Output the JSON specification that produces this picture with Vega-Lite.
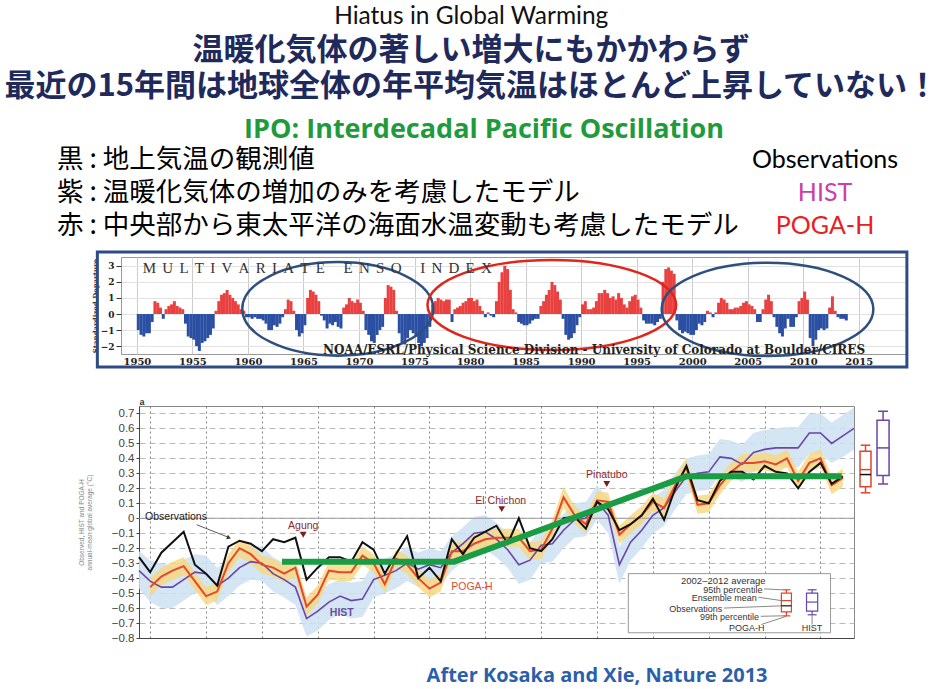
{
  "$schema": "https://vega.github.io/schema/vega-lite/v6.json",
  "background": "white",
  "padding": {"top": 3, "left": 0, "right": 0, "bottom": 0},
  "spacing": 8,
  "title": {
    "text": "Hiatus in Global Warming",
    "subtitle": ["温暖化気体の著しい増大にもかかわらず", "最近の15年間は地球全体の年平均気温はほとんど上昇していない！"],
    "anchor": "middle", "frame": "bounds",
    "font": "Lato", "fontSize": 24.5, "fontWeight": "normal", "color": "#111",
    "subtitleFont": "Noto Sans CJK JP", "subtitleFontSize": 31, "subtitleFontWeight": "bold",
    "subtitleColor": "#1f2a5c", "subtitleLineHeight": 36, "subtitlePadding": 7, "offset": 13
  },
  "vconcat": [
    {
      "spacing": 0,
      "hconcat": [
        {"width": 57, "height": 10, "data": {"values": [{}]}, "mark": {"type": "point", "opacity": 0}},
        {
          "width": 768, "height": 99,
          "title": {"text": "IPO: Interdecadal Pacific Oscillation", "font": "Open Sans", "fontSize": 27, "fontWeight": "bold", "color": "#1f9a3c", "anchor": "middle", "dx": 43, "offset": -1},
          "data": {"name": "rows"},
          "layer": [
            {
              "mark": {"type": "text", "align": "left", "font": "Noto Sans CJK JP", "fontSize": 26.5, "color": "#000"},
              "encoding": {
                "x": {"datum": "jp", "type": "nominal", "scale": {"type": "point", "domain": ["jp", "en"], "padding": 0}, "axis": null},
                "y": {"field": "key", "type": "nominal", "sort": ["obs", "hist", "poga"], "scale": {"type": "point", "padding": 0.5}, "axis": null},
                "text": {"field": "jp"}
              }
            },
            {
              "mark": {"type": "text", "align": "center", "font": "Lato", "fontSize": 25},
              "encoding": {
                "x": {"datum": "en", "type": "nominal", "axis": null},
                "y": {"field": "key", "type": "nominal", "sort": ["obs", "hist", "poga"], "axis": null},
                "text": {"field": "en"},
                "color": {"field": "key", "type": "nominal", "scale": {"domain": ["obs", "hist", "poga"], "range": ["#000000", "#cc3fa8", "#e8201e"]}, "legend": null}
              }
            }
          ]
        }
      ]
    },
    {
      "spacing": 0,
      "hconcat": [
        {"width": 89.5, "height": 132, "data": {"values": [{}]}, "mark": {"type": "point", "opacity": 0}},
        {
          "width": 786, "height": 97,
          "view": {"stroke": "#999", "strokeWidth": 1},
          "resolve": {"axis": {"y": "independent"}},
          "layer": [
            {
              "data": {"values": [{}]},
              "mark": {"type": "rect", "filled": false, "stroke": "#2d4b87", "strokeWidth": 3},
              "encoding": {
                "x": {"datum": 1946.44, "type": "quantitative", "scale": {"domain": [1949.02, 2018.89], "nice": false, "zero": false},
                  "axis": {"values": [1950, 1955, 1960, 1965, 1970, 1975, 1980, 1985, 1990, 1995, 2000, 2005, 2010, 2015], "format": "d", "title": null, "grid": true, "gridColor": "#cccccc", "ticks": false, "domain": false, "labelOverlap": false, "labelFont": "DejaVu Serif", "labelFontWeight": "bold", "labelFontSize": 10, "labelColor": "#222", "labelPadding": 2}},
                "x2": {"datum": 2019.33},
                "y": {"datum": 3.86, "type": "quantitative", "scale": {"domain": [-2.49, 3.55], "nice": false, "zero": false},
                  "axis": {"orient": "left", "values": [-2, -1, 0, 1, 2, 3], "labelOverlap": false, "title": "Standardized Departure", "titleFont": "DejaVu Serif", "titleFontSize": 7, "titleFontWeight": "bold", "titleColor": "#333", "titlePadding": 2, "grid": true, "gridColor": "#e2e2e2", "tickSize": 5, "tickColor": "#333", "domain": false, "labelFont": "DejaVu Serif", "labelFontWeight": "bold", "labelFontSize": 9, "labelColor": "#222", "labelPadding": 2}},
                "y2": {"datum": -3.3}
              }
            },
            {
              "data": {"name": "mei"},
              "mark": {"type": "bar", "size": 3, "orient": "vertical"},
              "encoding": {
                "x": {"field": "t", "type": "quantitative", "title": null},
                "y": {"field": "v", "type": "quantitative", "axis": null},
                "y2": {"datum": 0},
                "color": {"condition": {"test": "datum.v > 0", "value": "#e8413f"}, "value": "#2b4fa3"}
              }
            },
            {
              "data": {"values": [{}]},
              "mark": {"type": "point", "shape": "M-1,0A1,0.49,0,1,1,1,0A1,0.49,0,1,1,-1,0Z", "size": 36481, "filled": false, "color": "#2f4f7f", "strokeWidth": 2.5, "opacity": 1},
              "encoding": {"x": {"datum": 1968.09}, "y": {"datum": 0.32, "axis": null}}
            },
            {
              "data": {"values": [{}]},
              "mark": {"type": "point", "shape": "M-1,0A1,0.362,0,1,1,1,0A1,0.362,0,1,1,-1,0Z", "size": 61852, "filled": false, "color": "#e0251b", "strokeWidth": 2.5, "opacity": 1},
              "encoding": {"x": {"datum": 1987.36}, "y": {"datum": 0.56, "axis": null}}
            },
            {
              "data": {"values": [{}]},
              "mark": {"type": "point", "shape": "M-1,0A1,0.44,0,1,1,1,0A1,0.44,0,1,1,-1,0Z", "size": 44817, "filled": false, "color": "#2f4f7f", "strokeWidth": 2.5, "opacity": 1},
              "encoding": {"x": {"datum": 2006.78}, "y": {"datum": 0.29, "axis": null}}
            },
            {
              "data": {"values": [{}]},
              "mark": {"type": "text", "text": "M\u2005\u2006U\u2005\u2006L\u2005\u2006T\u2005\u2006I\u2005\u2006V\u2005\u2006A\u2005\u2006R\u2005\u2006I\u2005\u2006A\u2005\u2006T\u2005\u2006E\u2005\u2006\u2005\u2006\u2005\u2006E\u2005\u2006N\u2005\u2006S\u2005\u2006O\u2005\u2006\u2005\u2006\u2005\u2006I\u2005\u2006N\u2005\u2006D\u2005\u2006E\u2005\u2006X", "align": "left", "baseline": "middle", "font": "Liberation Serif", "fontSize": 15, "color": "#333"},
              "encoding": {"x": {"datum": 1950.53}, "y": {"datum": 2.86, "axis": null}}
            },
            {
              "data": {"values": [{}]},
              "mark": {"type": "text", "text": "NOAA/ESRL/Physical Science Division - University of Colorado at Boulder/CIRES", "align": "center", "baseline": "middle", "font": "DejaVu Serif", "fontWeight": "bold", "fontSize": 12, "color": "#222"},
              "encoding": {"x": {"datum": 1991.16}, "y": {"datum": -2.24, "axis": null}}
            }
          ]
        },
        {"width": 33.5, "height": 10, "data": {"values": [{}]}, "mark": {"type": "point", "opacity": 0}}
      ]
    },
    {
      "spacing": 0,
      "hconcat": [
        {"width": 77, "height": 10, "data": {"values": [{}]}, "mark": {"type": "point", "opacity": 0}},
        {
          "width": 715, "height": 232,
          "view": {"stroke": "#888", "strokeWidth": 1},
          "data": {"name": "gmt"},
          "resolve": {"axis": {"y": "independent"}},
          "layer": [
            {
              "mark": {"type": "area", "color": "#cde1f2", "opacity": 0.85},
              "encoding": {
                "x": {"field": "year", "type": "quantitative", "scale": {"domain": [1949, 2013], "nice": false, "zero": false},
                  "axis": {"values": [1950, 1955, 1960, 1965, 1970, 1975, 1980, 1985, 1990, 1995, 2000, 2005, 2010], "labels": false, "ticks": false, "title": null, "grid": true, "gridDash": [2, 3], "gridColor": "#666", "gridWidth": 0.8, "domainColor": "#444"}},
                "y": {"field": "hlo", "type": "quantitative", "scale": {"domain": [-0.8, 0.75], "nice": false, "zero": false},
                  "axis": {"orient": "left", "values": [-0.8, -0.7, -0.6, -0.5, -0.4, -0.3, -0.2, -0.1, 0, 0.1, 0.2, 0.3, 0.4, 0.5, 0.6, 0.7], "labelOverlap": false, "labelExpr": "datum.value == 0 ? '0' : (datum.value < 0 ? '\u2212' : '') + format(abs(datum.value), '.1f')", "grid": true, "gridDash": [6, 4], "gridColor": "#aaaaaa", "gridWidth": 0.8, "labelFont": "Liberation Sans", "labelFontSize": 11.5, "labelColor": "#444", "tickSize": 3, "tickColor": "#444", "labelPadding": 2, "domainColor": "#444",
                    "title": ["Observed, HIST and POGA-H", "annual-mean global average (°C)"], "titleFont": "Liberation Sans", "titleFontSize": 6.5, "titleFontWeight": "normal", "titleColor": "#888", "titleLineHeight": 8, "titlePadding": 2, "minExtent": 45, "maxExtent": 45}},
                "y2": {"field": "hhi"}
              }
            },
            {
              "mark": {"type": "area", "color": "#f8d77c", "opacity": 0.8},
              "encoding": {"x": {"field": "year", "type": "quantitative", "title": null}, "y": {"field": "plo", "type": "quantitative", "axis": null}, "y2": {"field": "phi"}}
            },
            {
              "data": {"values": [{}]},
              "mark": {"type": "rule", "color": "#9a9a9a", "strokeWidth": 1},
              "encoding": {"y": {"datum": 0, "axis": null}}
            },
            {
              "mark": {"type": "line", "color": "#6b45a8", "strokeWidth": 1.6},
              "encoding": {"x": {"field": "year", "type": "quantitative", "title": null}, "y": {"field": "hist", "type": "quantitative", "axis": null}}
            },
            {
              "mark": {"type": "line", "color": "#e8452c", "strokeWidth": 2},
              "encoding": {"x": {"field": "year", "type": "quantitative", "title": null}, "y": {"field": "poga", "type": "quantitative", "axis": null}}
            },
            {
              "mark": {"type": "line", "color": "#111111", "strokeWidth": 2},
              "encoding": {"x": {"field": "year", "type": "quantitative", "title": null}, "y": {"field": "obs", "type": "quantitative", "axis": null}}
            },
            {
              "data": {"name": "ipo"},
              "mark": {"type": "line", "color": "#1a9c45", "strokeWidth": 6},
              "encoding": {"x": {"field": "year", "type": "quantitative", "title": null}, "y": {"field": "v", "type": "quantitative", "axis": null}}
            },
            {"data": {"values": [{}]}, "mark": {"type": "text", "text": "Observations", "align": "left", "font": "Liberation Sans", "fontSize": 10.5, "color": "#222"}, "encoding": {"x": {"datum": 1949.54}, "y": {"datum": 0.008, "axis": null}}},
            {"data": {"values": [{}]}, "mark": {"type": "rule", "color": "#333", "strokeWidth": 0.8}, "encoding": {"x": {"datum": 1954.16}, "y": {"datum": -0.043, "axis": null}, "x2": {"datum": 1957.0}, "y2": {"datum": -0.127}}},
            {"data": {"values": [{}]}, "mark": {"type": "point", "shape": "triangle-right", "angle": 22, "size": 22, "filled": true, "color": "#333", "opacity": 1}, "encoding": {"x": {"datum": 1957.05}, "y": {"datum": -0.13, "axis": null}}},
            {"data": {"values": [{}]}, "mark": {"type": "text", "text": "Agung", "font": "Liberation Sans", "fontSize": 10.5, "color": "#8b2a2a"}, "encoding": {"x": {"datum": 1963.7}, "y": {"datum": -0.055, "axis": null}}},
            {"data": {"values": [{}]}, "mark": {"type": "point", "shape": "triangle-down", "size": 45, "filled": true, "color": "#7a1f1f", "opacity": 1}, "encoding": {"x": {"datum": 1963.7}, "y": {"datum": -0.11, "axis": null}}},
            {"data": {"values": [{}]}, "mark": {"type": "text", "text": "El Chichon", "font": "Liberation Sans", "fontSize": 10.5, "color": "#8b2a2a"}, "encoding": {"x": {"datum": 1981.38}, "y": {"datum": 0.117, "axis": null}}},
            {"data": {"values": [{}]}, "mark": {"type": "point", "shape": "triangle-down", "size": 45, "filled": true, "color": "#7a1f1f", "opacity": 1}, "encoding": {"x": {"datum": 1981.47}, "y": {"datum": 0.061, "axis": null}}},
            {"data": {"values": [{}]}, "mark": {"type": "text", "text": "Pinatubo", "font": "Liberation Sans", "fontSize": 10.5, "color": "#8b2a2a"}, "encoding": {"x": {"datum": 1990.87}, "y": {"datum": 0.291, "axis": null}}},
            {"data": {"values": [{}]}, "mark": {"type": "point", "shape": "triangle-down", "size": 45, "filled": true, "color": "#7a1f1f", "opacity": 1}, "encoding": {"x": {"datum": 1990.87}, "y": {"datum": 0.229, "axis": null}}},
            {"data": {"values": [{}]}, "mark": {"type": "text", "text": "HIST", "font": "Liberation Sans", "fontSize": 10.5, "fontWeight": "bold", "color": "#6a4ca0"}, "encoding": {"x": {"datum": 1967.15}, "y": {"datum": -0.63, "axis": null}}},
            {"data": {"values": [{}]}, "mark": {"type": "text", "text": "POGA-H", "font": "Liberation Sans", "fontSize": 10.5, "color": "#e5492f"}, "encoding": {"x": {"datum": 1978.8}, "y": {"datum": -0.46, "axis": null}}},
            {"data": {"values": [{}]}, "mark": {"type": "text", "text": "a", "font": "Liberation Sans", "fontSize": 9, "fontWeight": "bold", "color": "#333"}, "encoding": {"x": {"datum": 1949.27}, "y": {"datum": 0.78, "axis": null}}},
            {"data": {"values": [{}]}, "mark": {"type": "rect", "fill": "white", "stroke": "#999", "strokeWidth": 1}, "encoding": {"x": {"datum": 1992.8}, "x2": {"datum": 2010.9}, "y": {"datum": -0.37, "axis": null}, "y2": {"datum": -0.765}}},
            {"data": {"values": [{}]}, "mark": {"type": "text", "text": "2002–2012 average", "align": "center", "font": "Liberation Sans", "fontSize": 9.5, "color": "#333"}, "encoding": {"x": {"datum": 2001.3}, "y": {"datum": -0.418, "axis": null}}},
            {"data": {"values": [{}]}, "mark": {"type": "text", "text": "95th percentile", "align": "right", "font": "Liberation Sans", "fontSize": 9, "color": "#333"}, "encoding": {"x": {"datum": 2004.8}, "y": {"datum": -0.478, "axis": null}}},
            {"data": {"values": [{}]}, "mark": {"type": "text", "text": "Ensemble mean", "align": "right", "font": "Liberation Sans", "fontSize": 9, "color": "#333"}, "encoding": {"x": {"datum": 2004.3}, "y": {"datum": -0.532, "axis": null}}},
            {"data": {"values": [{}]}, "mark": {"type": "text", "text": "Observations", "align": "right", "font": "Liberation Sans", "fontSize": 9, "color": "#333"}, "encoding": {"x": {"datum": 2001.2}, "y": {"datum": -0.605, "axis": null}}},
            {"data": {"values": [{}]}, "mark": {"type": "text", "text": "99th percentile", "align": "right", "font": "Liberation Sans", "fontSize": 9, "color": "#333"}, "encoding": {"x": {"datum": 2004.5}, "y": {"datum": -0.659, "axis": null}}},
            {"data": {"values": [{}]}, "mark": {"type": "text", "text": "POGA-H", "align": "center", "font": "Liberation Sans", "fontSize": 9, "color": "#333"}, "encoding": {"x": {"datum": 2003.4}, "y": {"datum": -0.732, "axis": null}}},
            {"data": {"values": [{}]}, "mark": {"type": "text", "text": "HIST", "align": "center", "font": "Liberation Sans", "fontSize": 9, "color": "#333"}, "encoding": {"x": {"datum": 2009.25}, "y": {"datum": -0.732, "axis": null}}},
            {"data": {"values": [{}]}, "mark": {"type": "rule", "color": "#555", "strokeWidth": 0.7}, "encoding": {"x": {"datum": 2004.95}, "y": {"datum": -0.472, "axis": null}, "x2": {"datum": 2006.6}, "y2": {"datum": -0.478}}},
            {"data": {"values": [{}]}, "mark": {"type": "rule", "color": "#555", "strokeWidth": 0.7}, "encoding": {"x": {"datum": 2004.45}, "y": {"datum": -0.528, "axis": null}, "x2": {"datum": 2006.5}, "y2": {"datum": -0.55}}},
            {"data": {"values": [{}]}, "mark": {"type": "rule", "color": "#555", "strokeWidth": 0.7}, "encoding": {"x": {"datum": 2001.35}, "y": {"datum": -0.6, "axis": null}, "x2": {"datum": 2006.5}, "y2": {"datum": -0.585}}},
            {"data": {"values": [{}]}, "mark": {"type": "rule", "color": "#555", "strokeWidth": 0.7}, "encoding": {"x": {"datum": 2004.65}, "y": {"datum": -0.655, "axis": null}, "x2": {"datum": 2006.6}, "y2": {"datum": -0.652}}},
            {"data": {"values": [{}]}, "mark": {"type": "rule", "color": "#555", "strokeWidth": 0.7}, "encoding": {"x": {"datum": 2004.7}, "y": {"datum": -0.71, "axis": null}, "x2": {"datum": 2006.95}, "y2": {"datum": -0.655}}},
            {"data": {"values": [{}]}, "mark": {"type": "rule", "color": "#555", "strokeWidth": 0.7}, "encoding": {"x": {"datum": 2009.25}, "y": {"datum": -0.71, "axis": null}, "x2": {"datum": 2009.25}, "y2": {"datum": -0.648}}},
            {"data": {"values": [{}]}, "mark": {"type": "rule", "color": "#e0442b", "strokeWidth": 1.2}, "encoding": {"x": {"datum": 2006.95}, "y": {"datum": -0.478, "axis": null}, "y2": {"datum": -0.652}}},
            {"data": {"values": [{}]}, "mark": {"type": "rect", "fill": "white", "stroke": "#e0442b", "strokeWidth": 1.2}, "encoding": {"x": {"datum": 2006.5}, "x2": {"datum": 2007.4}, "y": {"datum": -0.5, "axis": null}, "y2": {"datum": -0.625}}},
            {"data": {"values": [{}]}, "mark": {"type": "rule", "color": "#e0442b", "strokeWidth": 1.2}, "encoding": {"x": {"datum": 2006.6}, "x2": {"datum": 2007.3}, "y": {"datum": -0.478, "axis": null}}},
            {"data": {"values": [{}]}, "mark": {"type": "rule", "color": "#e0442b", "strokeWidth": 1.2}, "encoding": {"x": {"datum": 2006.6}, "x2": {"datum": 2007.3}, "y": {"datum": -0.652, "axis": null}}},
            {"data": {"values": [{}]}, "mark": {"type": "rule", "color": "#e0442b", "strokeWidth": 1.2}, "encoding": {"x": {"datum": 2006.5}, "x2": {"datum": 2007.4}, "y": {"datum": -0.55, "axis": null}}},
            {"data": {"values": [{}]}, "mark": {"type": "rule", "color": "#111", "strokeWidth": 1.2}, "encoding": {"x": {"datum": 2006.5}, "x2": {"datum": 2007.4}, "y": {"datum": -0.585, "axis": null}}},
            {"data": {"values": [{}]}, "mark": {"type": "rule", "color": "#6b45a8", "strokeWidth": 1.2}, "encoding": {"x": {"datum": 2009.25}, "y": {"datum": -0.478, "axis": null}, "y2": {"datum": -0.645}}},
            {"data": {"values": [{}]}, "mark": {"type": "rect", "fill": "white", "stroke": "#6b45a8", "strokeWidth": 1.2}, "encoding": {"x": {"datum": 2008.75}, "x2": {"datum": 2009.75}, "y": {"datum": -0.5, "axis": null}, "y2": {"datum": -0.62}}},
            {"data": {"values": [{}]}, "mark": {"type": "rule", "color": "#6b45a8", "strokeWidth": 1.2}, "encoding": {"x": {"datum": 2008.85}, "x2": {"datum": 2009.65}, "y": {"datum": -0.478, "axis": null}}},
            {"data": {"values": [{}]}, "mark": {"type": "rule", "color": "#6b45a8", "strokeWidth": 1.2}, "encoding": {"x": {"datum": 2008.85}, "x2": {"datum": 2009.65}, "y": {"datum": -0.645, "axis": null}}},
            {"data": {"values": [{}]}, "mark": {"type": "rule", "color": "#6b45a8", "strokeWidth": 1.2}, "encoding": {"x": {"datum": 2008.75}, "x2": {"datum": 2009.75}, "y": {"datum": -0.56, "axis": null}}},
            {"data": {"name": "boxes"}, "transform": [{"filter": "datum.model == 'POGA-H'"}], "mark": {"type": "rule", "color": "#e0442b", "strokeWidth": 1.5}, "encoding": {"x": {"datum": 2014.03}, "y": {"field": "lo", "type": "quantitative", "axis": null}, "y2": {"field": "hi"}}},
            {"data": {"name": "boxes"}, "transform": [{"filter": "datum.model == 'POGA-H'"}], "mark": {"type": "rect", "fill": "white", "stroke": "#e0442b", "strokeWidth": 1.5}, "encoding": {"x": {"datum": 2013.54}, "x2": {"datum": 2014.52}, "y": {"field": "q1", "type": "quantitative", "axis": null}, "y2": {"field": "q3"}}},
            {"data": {"name": "boxes"}, "transform": [{"filter": "datum.model == 'POGA-H'"}], "mark": {"type": "rule", "color": "#e0442b", "strokeWidth": 1.5}, "encoding": {"x": {"datum": 2013.6}, "x2": {"datum": 2014.46}, "y": {"field": "lo", "type": "quantitative", "axis": null}}},
            {"data": {"name": "boxes"}, "transform": [{"filter": "datum.model == 'POGA-H'"}], "mark": {"type": "rule", "color": "#e0442b", "strokeWidth": 1.5}, "encoding": {"x": {"datum": 2013.6}, "x2": {"datum": 2014.46}, "y": {"field": "hi", "type": "quantitative", "axis": null}}},
            {"data": {"name": "boxes"}, "transform": [{"filter": "datum.model == 'POGA-H'"}], "mark": {"type": "rule", "color": "#e0442b", "strokeWidth": 1.5}, "encoding": {"x": {"datum": 2013.54}, "x2": {"datum": 2014.52}, "y": {"field": "mean", "type": "quantitative", "axis": null}}},
            {"data": {"name": "boxes"}, "transform": [{"filter": "datum.model == 'POGA-H'"}], "mark": {"type": "rule", "color": "#111", "strokeWidth": 1.5}, "encoding": {"x": {"datum": 2013.54}, "x2": {"datum": 2014.52}, "y": {"field": "obs", "type": "quantitative", "axis": null}}},
            {"data": {"name": "boxes"}, "transform": [{"filter": "datum.model == 'HIST'"}], "mark": {"type": "rule", "color": "#6b45a8", "strokeWidth": 1.5}, "encoding": {"x": {"datum": 2015.6}, "y": {"field": "lo", "type": "quantitative", "axis": null}, "y2": {"field": "hi"}}},
            {"data": {"name": "boxes"}, "transform": [{"filter": "datum.model == 'HIST'"}], "mark": {"type": "rect", "fill": "white", "stroke": "#6b45a8", "strokeWidth": 1.5}, "encoding": {"x": {"datum": 2015.06}, "x2": {"datum": 2016.14}, "y": {"field": "q1", "type": "quantitative", "axis": null}, "y2": {"field": "q3"}}},
            {"data": {"name": "boxes"}, "transform": [{"filter": "datum.model == 'HIST'"}], "mark": {"type": "rule", "color": "#6b45a8", "strokeWidth": 1.5}, "encoding": {"x": {"datum": 2015.15}, "x2": {"datum": 2016.05}, "y": {"field": "lo", "type": "quantitative", "axis": null}}},
            {"data": {"name": "boxes"}, "transform": [{"filter": "datum.model == 'HIST'"}], "mark": {"type": "rule", "color": "#6b45a8", "strokeWidth": 1.5}, "encoding": {"x": {"datum": 2015.15}, "x2": {"datum": 2016.05}, "y": {"field": "hi", "type": "quantitative", "axis": null}}},
            {"data": {"name": "boxes"}, "transform": [{"filter": "datum.model == 'HIST'"}], "mark": {"type": "rule", "color": "#6b45a8", "strokeWidth": 1.5}, "encoding": {"x": {"datum": 2015.06}, "x2": {"datum": 2016.14}, "y": {"field": "mean", "type": "quantitative", "axis": null}}},
            {"data": {"values": [{}]}, "mark": {"type": "text", "text": "After Kosaka and Xie, Nature  2013", "align": "center", "font": "Open Sans", "fontWeight": "bold", "fontSize": 20, "color": "#2c5faa"}, "encoding": {"x": {"datum": 1990.0}, "y": {"datum": -1.052, "axis": null}}}
          ]
        }
      ]
    }
  ],
  "datasets": {
    "rows": [
      {"key": "obs", "jp": "黒 : 地上気温の観測値", "en": "Observations"},
      {"key": "hist", "jp": "紫 : 温暖化気体の増加のみを考慮したモデル", "en": "HIST"},
      {"key": "poga", "jp": "赤 : 中央部から東太平洋の海面水温変動も考慮したモデル", "en": "POGA-H"}
    ],
    "ipo": [
      {"year": 1961.8, "v": -0.29},
      {"year": 1977.2, "v": -0.29},
      {"year": 1998.0, "v": 0.28},
      {"year": 2011.9, "v": 0.28}
    ],
    "boxes": [
      {"model": "POGA-H", "lo": 0.17, "q1": 0.21, "mean": 0.325, "obs": 0.292, "q3": 0.448, "hi": 0.488},
      {"model": "HIST", "lo": 0.229, "q1": 0.285, "mean": 0.47, "obs": 0.292, "q3": 0.655, "hi": 0.715}
    ],
    "gmt": [
      {"year": 1949, "obs": -0.26, "poga": null, "plo": null, "phi": null, "hist": -0.35, "hlo": -0.47, "hhi": -0.22},
      {"year": 1950, "obs": -0.36, "poga": -0.46, "plo": -0.52, "phi": -0.40, "hist": -0.42, "hlo": -0.56, "hhi": -0.28},
      {"year": 1951, "obs": -0.23, "poga": -0.39, "plo": -0.45, "phi": -0.33, "hist": -0.46, "hlo": -0.60, "hhi": -0.30},
      {"year": 1952, "obs": -0.16, "poga": -0.35, "plo": -0.41, "phi": -0.29, "hist": -0.46, "hlo": -0.60, "hhi": -0.32},
      {"year": 1953, "obs": -0.09, "poga": -0.32, "plo": -0.38, "phi": -0.26, "hist": -0.41, "hlo": -0.55, "hhi": -0.28},
      {"year": 1954, "obs": -0.31, "poga": -0.42, "plo": -0.48, "phi": -0.36, "hist": -0.36, "hlo": -0.50, "hhi": -0.24},
      {"year": 1955, "obs": -0.37, "poga": -0.52, "plo": -0.58, "phi": -0.46, "hist": -0.37, "hlo": -0.50, "hhi": -0.25},
      {"year": 1956, "obs": -0.45, "poga": -0.49, "plo": -0.55, "phi": -0.43, "hist": -0.45, "hlo": -0.58, "hhi": -0.33},
      {"year": 1957, "obs": -0.19, "poga": -0.30, "plo": -0.36, "phi": -0.24, "hist": -0.40, "hlo": -0.52, "hhi": -0.28},
      {"year": 1958, "obs": -0.15, "poga": -0.20, "plo": -0.26, "phi": -0.14, "hist": -0.33, "hlo": -0.45, "hhi": -0.21},
      {"year": 1959, "obs": -0.17, "poga": -0.24, "plo": -0.30, "phi": -0.18, "hist": -0.29, "hlo": -0.41, "hhi": -0.18},
      {"year": 1960, "obs": -0.22, "poga": -0.31, "plo": -0.37, "phi": -0.25, "hist": -0.30, "hlo": -0.42, "hhi": -0.19},
      {"year": 1961, "obs": -0.14, "poga": -0.33, "plo": -0.39, "phi": -0.27, "hist": -0.37, "hlo": -0.49, "hhi": -0.26},
      {"year": 1962, "obs": -0.16, "poga": -0.37, "plo": -0.43, "phi": -0.31, "hist": -0.41, "hlo": -0.53, "hhi": -0.30},
      {"year": 1963, "obs": -0.13, "poga": -0.33, "plo": -0.39, "phi": -0.27, "hist": -0.46, "hlo": -0.58, "hhi": -0.35},
      {"year": 1964, "obs": -0.41, "poga": -0.59, "plo": -0.65, "phi": -0.53, "hist": -0.67, "hlo": -0.79, "hhi": -0.55},
      {"year": 1965, "obs": -0.33, "poga": -0.51, "plo": -0.57, "phi": -0.45, "hist": -0.62, "hlo": -0.75, "hhi": -0.50},
      {"year": 1966, "obs": -0.26, "poga": -0.35, "plo": -0.41, "phi": -0.29, "hist": -0.56, "hlo": -0.68, "hhi": -0.44},
      {"year": 1967, "obs": -0.26, "poga": -0.36, "plo": -0.42, "phi": -0.30, "hist": -0.52, "hlo": -0.64, "hhi": -0.41},
      {"year": 1968, "obs": -0.29, "poga": -0.36, "plo": -0.42, "phi": -0.30, "hist": -0.55, "hlo": -0.67, "hhi": -0.43},
      {"year": 1969, "obs": -0.16, "poga": -0.25, "plo": -0.31, "phi": -0.19, "hist": -0.54, "hlo": -0.66, "hhi": -0.42},
      {"year": 1970, "obs": -0.21, "poga": -0.30, "plo": -0.36, "phi": -0.24, "hist": -0.41, "hlo": -0.53, "hhi": -0.30},
      {"year": 1971, "obs": -0.37, "poga": -0.44, "plo": -0.50, "phi": -0.38, "hist": -0.38, "hlo": -0.50, "hhi": -0.27},
      {"year": 1972, "obs": -0.24, "poga": -0.27, "plo": -0.33, "phi": -0.21, "hist": -0.35, "hlo": -0.47, "hhi": -0.24},
      {"year": 1973, "obs": -0.12, "poga": -0.31, "plo": -0.37, "phi": -0.25, "hist": -0.30, "hlo": -0.42, "hhi": -0.19},
      {"year": 1974, "obs": -0.40, "poga": -0.40, "plo": -0.46, "phi": -0.34, "hist": -0.34, "hlo": -0.46, "hhi": -0.23},
      {"year": 1975, "obs": -0.33, "poga": -0.47, "plo": -0.53, "phi": -0.41, "hist": -0.31, "hlo": -0.43, "hhi": -0.20},
      {"year": 1976, "obs": -0.42, "poga": -0.43, "plo": -0.49, "phi": -0.37, "hist": -0.33, "hlo": -0.45, "hhi": -0.22},
      {"year": 1977, "obs": -0.14, "poga": -0.22, "plo": -0.28, "phi": -0.16, "hist": -0.23, "hlo": -0.35, "hhi": -0.12},
      {"year": 1978, "obs": -0.24, "poga": -0.22, "plo": -0.28, "phi": -0.16, "hist": -0.17, "hlo": -0.29, "hhi": -0.06},
      {"year": 1979, "obs": -0.13, "poga": -0.17, "plo": -0.23, "phi": -0.11, "hist": -0.10, "hlo": -0.22, "hhi": 0.01},
      {"year": 1980, "obs": -0.09, "poga": -0.14, "plo": -0.20, "phi": -0.08, "hist": -0.09, "hlo": -0.21, "hhi": 0.02},
      {"year": 1981, "obs": -0.05, "poga": -0.13, "plo": -0.19, "phi": -0.07, "hist": -0.14, "hlo": -0.26, "hhi": -0.03},
      {"year": 1982, "obs": -0.17, "poga": -0.13, "plo": -0.19, "phi": -0.07, "hist": -0.21, "hlo": -0.33, "hhi": -0.10},
      {"year": 1983, "obs": 0.00, "poga": -0.13, "plo": -0.19, "phi": -0.07, "hist": -0.31, "hlo": -0.44, "hhi": -0.19},
      {"year": 1984, "obs": -0.20, "poga": -0.22, "plo": -0.28, "phi": -0.16, "hist": -0.28, "hlo": -0.41, "hhi": -0.16},
      {"year": 1985, "obs": -0.22, "poga": -0.21, "plo": -0.27, "phi": -0.15, "hist": -0.18, "hlo": -0.30, "hhi": -0.07},
      {"year": 1986, "obs": -0.14, "poga": -0.07, "plo": -0.13, "phi": -0.01, "hist": -0.17, "hlo": -0.29, "hhi": -0.06},
      {"year": 1987, "obs": 0.00, "poga": 0.14, "plo": 0.07, "phi": 0.21, "hist": -0.08, "hlo": -0.20, "hhi": 0.03},
      {"year": 1988, "obs": 0.01, "poga": 0.02, "plo": -0.04, "phi": 0.08, "hist": -0.01, "hlo": -0.13, "hhi": 0.10},
      {"year": 1989, "obs": -0.07, "poga": -0.04, "plo": -0.10, "phi": 0.02, "hist": 0.00, "hlo": -0.12, "hhi": 0.11},
      {"year": 1990, "obs": 0.11, "poga": 0.12, "plo": 0.06, "phi": 0.18, "hist": 0.11, "hlo": -0.01, "hhi": 0.22},
      {"year": 1991, "obs": 0.06, "poga": 0.11, "plo": 0.05, "phi": 0.17, "hist": 0.02, "hlo": -0.10, "hhi": 0.13},
      {"year": 1992, "obs": -0.08, "poga": -0.11, "plo": -0.17, "phi": -0.05, "hist": -0.31, "hlo": -0.44, "hhi": -0.19},
      {"year": 1993, "obs": -0.04, "poga": -0.04, "plo": -0.10, "phi": 0.02, "hist": -0.16, "hlo": -0.28, "hhi": -0.05},
      {"year": 1994, "obs": 0.02, "poga": 0.02, "plo": -0.04, "phi": 0.08, "hist": -0.08, "hlo": -0.20, "hhi": 0.03},
      {"year": 1995, "obs": 0.13, "poga": 0.11, "plo": 0.05, "phi": 0.17, "hist": 0.02, "hlo": -0.10, "hhi": 0.14},
      {"year": 1996, "obs": -0.01, "poga": 0.07, "plo": 0.01, "phi": 0.13, "hist": 0.07, "hlo": -0.05, "hhi": 0.19},
      {"year": 1997, "obs": 0.20, "poga": 0.22, "plo": 0.16, "phi": 0.28, "hist": 0.18, "hlo": 0.06, "hhi": 0.30},
      {"year": 1998, "obs": 0.35, "poga": 0.34, "plo": 0.28, "phi": 0.40, "hist": 0.28, "hlo": 0.16, "hhi": 0.40},
      {"year": 1999, "obs": 0.12, "poga": 0.09, "plo": 0.03, "phi": 0.15, "hist": 0.30, "hlo": 0.18, "hhi": 0.42},
      {"year": 2000, "obs": 0.10, "poga": 0.10, "plo": 0.04, "phi": 0.16, "hist": 0.31, "hlo": 0.19, "hhi": 0.43},
      {"year": 2001, "obs": 0.25, "poga": 0.22, "plo": 0.16, "phi": 0.28, "hist": 0.41, "hlo": 0.29, "hhi": 0.53},
      {"year": 2002, "obs": 0.31, "poga": 0.31, "plo": 0.25, "phi": 0.37, "hist": 0.40, "hlo": 0.28, "hhi": 0.52},
      {"year": 2003, "obs": 0.31, "poga": 0.37, "plo": 0.31, "phi": 0.43, "hist": 0.36, "hlo": 0.24, "hhi": 0.49},
      {"year": 2004, "obs": 0.26, "poga": 0.37, "plo": 0.31, "phi": 0.43, "hist": 0.44, "hlo": 0.31, "hhi": 0.57},
      {"year": 2005, "obs": 0.35, "poga": 0.38, "plo": 0.32, "phi": 0.44, "hist": 0.46, "hlo": 0.33, "hhi": 0.59},
      {"year": 2006, "obs": 0.31, "poga": 0.36, "plo": 0.30, "phi": 0.42, "hist": 0.47, "hlo": 0.34, "hhi": 0.60},
      {"year": 2007, "obs": 0.30, "poga": 0.40, "plo": 0.34, "phi": 0.46, "hist": 0.47, "hlo": 0.34, "hhi": 0.61},
      {"year": 2008, "obs": 0.20, "poga": 0.25, "plo": 0.19, "phi": 0.31, "hist": 0.47, "hlo": 0.34, "hhi": 0.61},
      {"year": 2009, "obs": 0.31, "poga": 0.37, "plo": 0.31, "phi": 0.43, "hist": 0.57, "hlo": 0.43, "hhi": 0.70},
      {"year": 2010, "obs": 0.37, "poga": 0.40, "plo": 0.34, "phi": 0.46, "hist": 0.57, "hlo": 0.43, "hhi": 0.70},
      {"year": 2011, "obs": 0.23, "poga": 0.22, "plo": 0.16, "phi": 0.28, "hist": 0.50, "hlo": 0.37, "hhi": 0.64},
      {"year": 2012, "obs": 0.28, "poga": 0.27, "plo": 0.21, "phi": 0.33, "hist": 0.55, "hlo": 0.41, "hhi": 0.69},
      {"year": 2013, "obs": null, "poga": null, "plo": null, "phi": null, "hist": 0.60, "hlo": 0.46, "hhi": 0.74}
    ],
    "mei": [
      {"t": 1950.125, "v": -1.0}, {"t": 1950.375, "v": -1.3}, {"t": 1950.625, "v": -1.4}, {"t": 1950.875, "v": -1.2},
      {"t": 1951.125, "v": -1.2}, {"t": 1951.375, "v": -0.5}, {"t": 1951.625, "v": 0.8}, {"t": 1951.875, "v": 0.7},
      {"t": 1952.125, "v": 0.4}, {"t": 1952.375, "v": -0.3}, {"t": 1952.625, "v": 0.3}, {"t": 1952.875, "v": 0.5},
      {"t": 1953.125, "v": 0.6}, {"t": 1953.375, "v": 0.8}, {"t": 1953.625, "v": 0.5}, {"t": 1953.875, "v": 0.4},
      {"t": 1954.125, "v": 0.3}, {"t": 1954.375, "v": -0.6}, {"t": 1954.625, "v": -1.4}, {"t": 1954.875, "v": -1.5},
      {"t": 1955.125, "v": -1.6}, {"t": 1955.375, "v": -2.0}, {"t": 1955.625, "v": -2.3}, {"t": 1955.875, "v": -1.8},
      {"t": 1956.125, "v": -1.7}, {"t": 1956.375, "v": -1.5}, {"t": 1956.625, "v": -1.3}, {"t": 1956.875, "v": -0.9},
      {"t": 1957.125, "v": 0.2}, {"t": 1957.375, "v": 0.8}, {"t": 1957.625, "v": 1.2}, {"t": 1957.875, "v": 1.3},
      {"t": 1958.125, "v": 1.5}, {"t": 1958.375, "v": 1.2}, {"t": 1958.625, "v": 1.0}, {"t": 1958.875, "v": 0.8},
      {"t": 1959.125, "v": 0.6}, {"t": 1959.375, "v": 0.3}, {"t": 1959.625, "v": 0.2}, {"t": 1959.875, "v": -0.2},
      {"t": 1960.125, "v": -0.2}, {"t": 1960.375, "v": -0.3}, {"t": 1960.625, "v": -0.2}, {"t": 1960.875, "v": -0.3},
      {"t": 1961.125, "v": -0.3}, {"t": 1961.375, "v": -0.4}, {"t": 1961.625, "v": -0.6}, {"t": 1961.875, "v": -1.0},
      {"t": 1962.125, "v": -1.0}, {"t": 1962.375, "v": -0.7}, {"t": 1962.625, "v": -0.8}, {"t": 1962.875, "v": -0.6},
      {"t": 1963.125, "v": -0.2}, {"t": 1963.375, "v": 0.3}, {"t": 1963.625, "v": 0.9}, {"t": 1963.875, "v": 0.8},
      {"t": 1964.125, "v": 0.2}, {"t": 1964.375, "v": -1.0}, {"t": 1964.625, "v": -1.4}, {"t": 1964.875, "v": -1.2},
      {"t": 1965.125, "v": -0.7}, {"t": 1965.375, "v": 1.0}, {"t": 1965.625, "v": 1.5}, {"t": 1965.875, "v": 1.4},
      {"t": 1966.125, "v": 1.2}, {"t": 1966.375, "v": 0.8}, {"t": 1966.625, "v": -0.1}, {"t": 1966.875, "v": -0.4},
      {"t": 1967.125, "v": -0.9}, {"t": 1967.375, "v": -0.6}, {"t": 1967.625, "v": -0.7}, {"t": 1967.875, "v": -0.5},
      {"t": 1968.125, "v": -0.8}, {"t": 1968.375, "v": -0.9}, {"t": 1968.625, "v": 0.4}, {"t": 1968.875, "v": 0.6},
      {"t": 1969.125, "v": 1.0}, {"t": 1969.375, "v": 0.8}, {"t": 1969.625, "v": 0.7}, {"t": 1969.875, "v": 0.9},
      {"t": 1970.125, "v": 0.7}, {"t": 1970.375, "v": 0.2}, {"t": 1970.625, "v": -1.0}, {"t": 1970.875, "v": -1.3},
      {"t": 1971.125, "v": -1.7}, {"t": 1971.375, "v": -1.8}, {"t": 1971.625, "v": -1.3}, {"t": 1971.875, "v": -1.0},
      {"t": 1972.125, "v": -0.8}, {"t": 1972.375, "v": 1.0}, {"t": 1972.625, "v": 1.8}, {"t": 1972.875, "v": 1.7},
      {"t": 1973.125, "v": 1.5}, {"t": 1973.375, "v": 0.2}, {"t": 1973.625, "v": -1.2}, {"t": 1973.875, "v": -1.8},
      {"t": 1974.125, "v": -1.9}, {"t": 1974.375, "v": -1.5}, {"t": 1974.625, "v": -1.0}, {"t": 1974.875, "v": -1.2},
      {"t": 1975.125, "v": -1.4}, {"t": 1975.375, "v": -1.8}, {"t": 1975.625, "v": -2.0}, {"t": 1975.875, "v": -1.8},
      {"t": 1976.125, "v": -1.5}, {"t": 1976.375, "v": -0.8}, {"t": 1976.625, "v": 0.6}, {"t": 1976.875, "v": 0.8},
      {"t": 1977.125, "v": 1.0}, {"t": 1977.375, "v": 0.9}, {"t": 1977.625, "v": 0.8}, {"t": 1977.875, "v": 0.9},
      {"t": 1978.125, "v": 0.9}, {"t": 1978.375, "v": -0.5}, {"t": 1978.625, "v": 0.3}, {"t": 1978.875, "v": 0.4},
      {"t": 1979.125, "v": 0.5}, {"t": 1979.375, "v": 0.7}, {"t": 1979.625, "v": 0.8}, {"t": 1979.875, "v": 1.0},
      {"t": 1980.125, "v": 1.0}, {"t": 1980.375, "v": 0.8}, {"t": 1980.625, "v": 0.9}, {"t": 1980.875, "v": 0.5},
      {"t": 1981.125, "v": 0.2}, {"t": 1981.375, "v": -0.2}, {"t": 1981.625, "v": 0.1}, {"t": 1981.875, "v": -0.1},
      {"t": 1982.125, "v": -0.2}, {"t": 1982.375, "v": 0.8}, {"t": 1982.625, "v": 2.0}, {"t": 1982.875, "v": 2.6},
      {"t": 1983.125, "v": 3.0}, {"t": 1983.375, "v": 2.8}, {"t": 1983.625, "v": 1.5}, {"t": 1983.875, "v": 0.3},
      {"t": 1984.125, "v": 0.1}, {"t": 1984.375, "v": -0.5}, {"t": 1984.625, "v": -0.6}, {"t": 1984.875, "v": -0.7},
      {"t": 1985.125, "v": -0.7}, {"t": 1985.375, "v": -0.6}, {"t": 1985.625, "v": -0.4}, {"t": 1985.875, "v": -0.3},
      {"t": 1986.125, "v": -0.3}, {"t": 1986.375, "v": 0.5}, {"t": 1986.625, "v": 0.8}, {"t": 1986.875, "v": 1.2},
      {"t": 1987.125, "v": 1.5}, {"t": 1987.375, "v": 2.0}, {"t": 1987.625, "v": 1.8}, {"t": 1987.875, "v": 1.4},
      {"t": 1988.125, "v": 0.9}, {"t": 1988.375, "v": -0.3}, {"t": 1988.625, "v": -1.3}, {"t": 1988.875, "v": -1.6},
      {"t": 1989.125, "v": -1.5}, {"t": 1989.375, "v": -1.2}, {"t": 1989.625, "v": -0.7}, {"t": 1989.875, "v": -0.2},
      {"t": 1990.125, "v": 0.6}, {"t": 1990.375, "v": 0.8}, {"t": 1990.625, "v": 0.3}, {"t": 1990.875, "v": 0.3},
      {"t": 1991.125, "v": 0.4}, {"t": 1991.375, "v": 0.8}, {"t": 1991.625, "v": 1.3}, {"t": 1991.875, "v": 1.3},
      {"t": 1992.125, "v": 1.5}, {"t": 1992.375, "v": 1.3}, {"t": 1992.625, "v": 1.0}, {"t": 1992.875, "v": 1.1},
      {"t": 1993.125, "v": 0.9}, {"t": 1993.375, "v": 1.3}, {"t": 1993.625, "v": 1.0}, {"t": 1993.875, "v": 0.6},
      {"t": 1994.125, "v": 0.4}, {"t": 1994.375, "v": 0.8}, {"t": 1994.625, "v": 1.1}, {"t": 1994.875, "v": 1.2},
      {"t": 1995.125, "v": 0.9}, {"t": 1995.375, "v": 0.4}, {"t": 1995.625, "v": -0.4}, {"t": 1995.875, "v": -0.6},
      {"t": 1996.125, "v": -0.6}, {"t": 1996.375, "v": -0.6}, {"t": 1996.625, "v": -0.7}, {"t": 1996.875, "v": -0.5},
      {"t": 1997.125, "v": -0.3}, {"t": 1997.375, "v": 2.0}, {"t": 1997.625, "v": 2.8}, {"t": 1997.875, "v": 2.9},
      {"t": 1998.125, "v": 2.7}, {"t": 1998.375, "v": 2.5}, {"t": 1998.625, "v": -0.4}, {"t": 1998.875, "v": -1.0},
      {"t": 1999.125, "v": -1.2}, {"t": 1999.375, "v": -1.1}, {"t": 1999.625, "v": -1.2}, {"t": 1999.875, "v": -1.3},
      {"t": 2000.125, "v": -1.3}, {"t": 2000.375, "v": -1.0}, {"t": 2000.625, "v": -0.6}, {"t": 2000.875, "v": -0.7},
      {"t": 2001.125, "v": -0.5}, {"t": 2001.375, "v": 0.2}, {"t": 2001.625, "v": 0.1}, {"t": 2001.875, "v": -0.2},
      {"t": 2002.125, "v": 0.1}, {"t": 2002.375, "v": 0.7}, {"t": 2002.625, "v": 1.0}, {"t": 2002.875, "v": 0.9},
      {"t": 2003.125, "v": 0.7}, {"t": 2003.375, "v": 0.3}, {"t": 2003.625, "v": 0.3}, {"t": 2003.875, "v": 0.4},
      {"t": 2004.125, "v": 0.4}, {"t": 2004.375, "v": 0.5}, {"t": 2004.625, "v": 0.7}, {"t": 2004.875, "v": 0.8},
      {"t": 2005.125, "v": 0.6}, {"t": 2005.375, "v": 0.5}, {"t": 2005.625, "v": 0.3}, {"t": 2005.875, "v": -0.5},
      {"t": 2006.125, "v": -0.5}, {"t": 2006.375, "v": 0.3}, {"t": 2006.625, "v": 0.9}, {"t": 2006.875, "v": 1.2},
      {"t": 2007.125, "v": 0.8}, {"t": 2007.375, "v": -0.2}, {"t": 2007.625, "v": -0.8}, {"t": 2007.875, "v": -1.2},
      {"t": 2008.125, "v": -1.4}, {"t": 2008.375, "v": -0.9}, {"t": 2008.625, "v": -0.3}, {"t": 2008.875, "v": -0.8},
      {"t": 2009.125, "v": -0.8}, {"t": 2009.375, "v": -0.2}, {"t": 2009.625, "v": 0.8}, {"t": 2009.875, "v": 1.0},
      {"t": 2010.125, "v": 1.4}, {"t": 2010.375, "v": 0.9}, {"t": 2010.625, "v": -1.5}, {"t": 2010.875, "v": -2.0},
      {"t": 2011.125, "v": -1.6}, {"t": 2011.375, "v": -1.0}, {"t": 2011.625, "v": -0.9}, {"t": 2011.875, "v": -1.0},
      {"t": 2012.125, "v": -0.9}, {"t": 2012.375, "v": 0.4}, {"t": 2012.625, "v": 1.1}, {"t": 2012.875, "v": 0.2},
      {"t": 2013.125, "v": -0.2}, {"t": 2013.375, "v": -0.3}, {"t": 2013.625, "v": -0.3}, {"t": 2013.875, "v": -0.4}
    ]
  },
  "config": {
    "view": {"stroke": null},
    "axis": {"labelFont": "Liberation Sans"}
  }
}
